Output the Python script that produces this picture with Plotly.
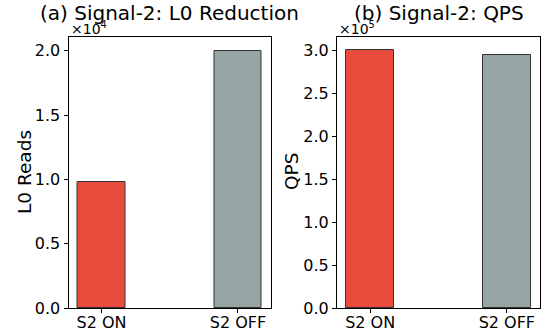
import plotly.graph_objects as go
from plotly.subplots import make_subplots

categories = ["S2 ON", "S2 OFF"]
l0_reads = [9800, 20000]
qps = [301000, 295500]
colors = ["#e74c3c", "#95a5a6"]

W, H = 556, 335
fig = make_subplots(rows=1, cols=2)
xpos = list(range(len(categories)))

fig.add_trace(go.Bar(x=xpos, y=l0_reads, width=0.35, marker=dict(color=colors, line=dict(color="#333333", width=1)), showlegend=False), row=1, col=1)
fig.add_trace(go.Bar(x=xpos, y=qps, width=0.35, marker=dict(color=colors, line=dict(color="#333333", width=1)), showlegend=False), row=1, col=2)

ydom = [(H - 308) / H, (H - 37) / H]
font = dict(family="DejaVu Sans", size=16, color="black")

axcommon = dict(showline=True, linecolor="black", linewidth=1, mirror=True, ticks="outside", ticklen=4,
                tickcolor="black", showgrid=False, zeroline=False, tickfont=font, automargin=False)

L = [68.5, 271]
R = [337, 540]
fig.update_xaxes(domain=[L[0] / W, L[1] / W], range=[-0.2425, 1.2425], tickvals=xpos, ticktext=categories,
                 ticklabelstandoff=-4, row=1, col=1, **axcommon)
fig.update_xaxes(domain=[R[0] / W, R[1] / W], range=[-0.2425, 1.2425], tickvals=xpos, ticktext=categories,
                 ticklabelstandoff=-4, row=1, col=2, **axcommon)

lt = [0, 5000, 10000, 15000, 20000]
fig.update_yaxes(domain=ydom, range=[0, 21080], tickvals=lt, ticktext=[f"{v/1e4:.1f}" for v in lt],
                 row=1, col=1, **axcommon)
rt = [0, 50000, 100000, 150000, 200000, 250000, 300000]
fig.update_yaxes(domain=ydom, range=[0, 316000], tickvals=rt, ticktext=[f"{v/1e5:.1f}" for v in rt],
                 row=1, col=2, **axcommon)

ymid = (H - 172) / H
annots = [
    dict(text="(a) Signal-2: L0 Reduction", x=(L[0] + L[1]) / 2 / W, y=(H - 13) / H, xref="paper", yref="paper",
         showarrow=False, font=dict(family="DejaVu Sans", size=20, color="black"), xanchor="center", yanchor="middle"),
    dict(text="(b) Signal-2: QPS", x=(R[0] + R[1]) / 2 / W, y=(H - 13) / H, xref="paper", yref="paper",
         showarrow=False, font=dict(family="DejaVu Sans", size=20, color="black"), xanchor="center", yanchor="middle"),
    dict(text="×10<sup>4</sup>", x=(L[0]) / W, y=(H - 39) / H, xref="paper", yref="paper",
         showarrow=False, font=dict(family="DejaVu Sans", size=14, color="black"), xanchor="left", yanchor="bottom"),
    dict(text="×10<sup>5</sup>", x=(R[0]) / W, y=(H - 39) / H, xref="paper", yref="paper",
         showarrow=False, font=dict(family="DejaVu Sans", size=14, color="black"), xanchor="left", yanchor="bottom"),
    dict(text="L0 Reads", x=24 / W, y=ymid, xref="paper", yref="paper", textangle=-90,
         showarrow=False, font=dict(family="DejaVu Sans", size=18.5, color="black"), xanchor="center", yanchor="middle"),
    dict(text="QPS", x=291 / W, y=ymid, xref="paper", yref="paper", textangle=-90,
         showarrow=False, font=dict(family="DejaVu Sans", size=18.5, color="black"), xanchor="center", yanchor="middle"),
]

fig.update_layout(width=W, height=H, margin=dict(l=0, r=0, t=0, b=0), plot_bgcolor="white",
                  paper_bgcolor="white", annotations=annots, bargap=0)

fig.write_html("out.html", config={"displayModeBar": False},
               post_script="document.body.style.margin='0px';")
